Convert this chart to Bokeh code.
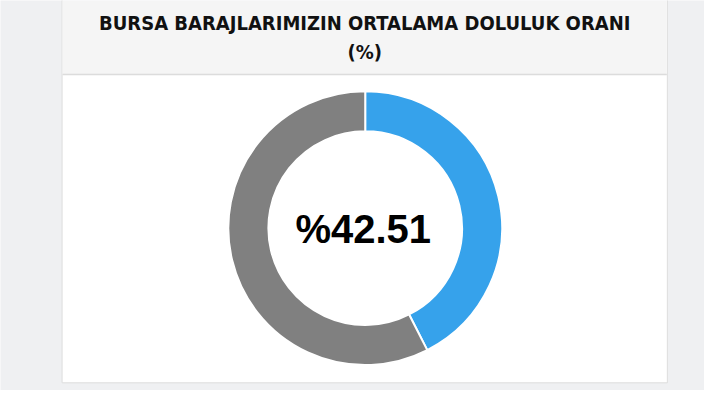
from bokeh.plotting import figure
from bokeh.models import Range1d
from bokeh.embed import file_html
from bokeh.resources import INLINE
from bokeh.core.properties import value
import numpy as np

# data
title_lines = ["BURSA BARAJLARIMIZIN ORTALAMA DOLULUK ORANI", "(%)"]
categories = ["Dolu", "Boş"]
values = [42.51, 57.49]
colors = ["#36A2EB", "#808080"]
center_label = "%42.51"

W, H = 704, 390
p = figure(width=W, height=H, output_backend="svg", toolbar_location=None,
           x_range=Range1d(0, 720), y_range=Range1d(0, 406),
           min_border=0, background_fill_color="#eff0f2", border_fill_color="#eff0f2")
p.axis.visible = False
p.grid.visible = False
p.outline_line_color = None

def sy(y):  # reference y (from top) to data y
    return 406 - y

# card body
p.quad(left=[63], right=[682], top=[sy(-5)], bottom=[sy(398)],
       fill_color="white", line_color="#dddddd", line_width=1)
# header
p.quad(left=[63.5], right=[681.5], top=[sy(-5)], bottom=[sy(77)],
       fill_color="#f5f5f5", line_color=None)
p.segment(x0=[63.5], x1=[681.5], y0=[sy(77)], y1=[sy(77)], line_color="#dcdcdc", line_width=1.5)

# title
title_font = value("'DejaVu Sans Condensed', 'Liberation Sans', sans-serif")
p.text(x=[372.5, 372.5], y=[sy(23.5), sy(54)], text=title_lines,
       text_font=title_font, text_font_style="bold",
       text_font_size="20px", text_color="#111111",
       text_align="center", text_baseline="alphabetic")

# donut
vals = np.array(values, dtype=float)
frac = vals / vals.sum()
cum = np.cumsum(frac)
start = np.deg2rad(90 - (cum - frac) * 360)
end = np.deg2rad(90 - cum * 360)
cx, cy = 373, sy(237)
p.annular_wedge(x=[cx] * len(vals), y=[cy] * len(vals), inner_radius=99, outer_radius=140,
                start_angle=start, end_angle=end, direction="clock",
                fill_color=colors, line_color="white", line_width=2)

p.text(x=[371], y=[sy(238)], text=[center_label],
       text_font=value("Liberation Sans"), text_font_style="bold",
       text_font_size="40px", text_color="#000000",
       text_align="center", text_baseline="alphabetic")

open("out.html", "w").write(file_html(p, INLINE))
